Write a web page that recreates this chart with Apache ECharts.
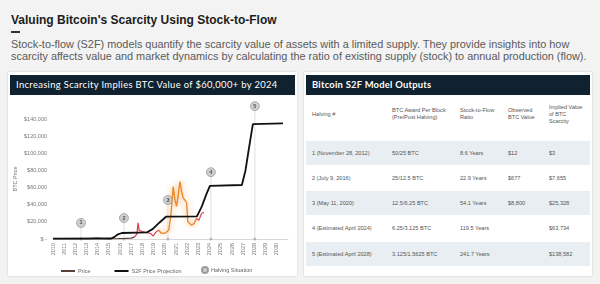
<!DOCTYPE html>
<html><head><meta charset="utf-8">
<script src="https://cdn.jsdelivr.net/npm/echarts@6/dist/echarts.min.js"></script>
<style>
html,body{margin:0;padding:0;width:600px;height:284px;overflow:hidden;background:#f3f3f3;font-family:"Liberation Sans",Arial,sans-serif;}
#title{position:absolute;left:11px;top:13px;font-size:12px;font-weight:bold;color:#1c1c1c;white-space:nowrap;}
#dash{position:absolute;left:11px;top:31px;width:9px;height:2px;background:#333;}
#para{position:absolute;left:11px;top:38px;font-size:10.9px;line-height:12px;color:#5a5a5a;white-space:nowrap;}
.card{position:absolute;background:#fff;box-shadow:0 0 2px rgba(0,0,0,0.18);}
.bar{position:absolute;background:#10222f;color:#fff;white-space:nowrap;}
#chart{position:absolute;left:0;top:0;width:600px;height:284px;}
.cell{position:absolute;font-size:5.6px;line-height:7px;color:#555;white-space:nowrap;transform:translateY(-50%);}
.band{position:absolute;background:#e9eef3;left:306px;width:284px;}
</style></head>
<body>
<div id="title">Valuing Bitcoin's Scarcity Using Stock-to-Flow</div>
<div id="dash"></div>
<div id="para">Stock-to-flow (S2F) models quantify the scarcity value of assets with a limited supply. They provide insights into how<br>scarcity affects value and market dynamics by calculating the ratio of existing supply (stock) to annual production (flow).</div>
<div class="card" style="left:8px;top:72px;width:289px;height:204px;"></div>
<div class="card" style="left:304px;top:72px;width:288px;height:204px;"></div>
<div class="bar" style="left:10px;top:75px;width:285px;height:20px;font-family:Lato,sans-serif;font-size:9.4px;line-height:20px;letter-spacing:0.35px;"><span style="padding-left:6px">Increasing Scarcity Implies BTC Value of $60,000+ by 2024</span></div>
<div class="bar" style="left:306px;top:75px;width:284px;height:20px;font-family:Lato,sans-serif;font-weight:bold;font-size:9.4px;line-height:20px;letter-spacing:0.25px;"><span style="padding-left:6px">Bitcoin S2F Model Outputs</span></div>
<div id="table"></div>
<div id="chart"></div>
<script>
// ---------- data ----------
const xTickYears = [2010,2011,2012,2013,2014,2015,2016,2017,2018,2019,2020,2021,2022,2023,2024,2025,2026,2027,2028,2029,2030];
const priceYears = [2010.0,2011.4,2012.5,2013.3,2013.9,2014.5,2015.0,2015.8,2016.5,2017.0,2017.3,2017.5,2017.6,2017.7,2018.0,2018.4,2018.7,2018.95,2019.2,2019.45,2019.65,2019.9,2020.1,2020.35,2020.55,2020.74,2020.9,2021.04,2021.2,2021.34,2021.5,2021.63,2021.8,2021.94,2022.05,2022.38,2022.6,2022.83,2023.05,2023.28,2023.5];
const priceValues = [100,300,200,400,1100,600,250,400,650,1000,2500,6000,19000,10000,8500,7500,6500,3500,8000,10500,7000,6500,7500,10500,30000,61000,45000,38000,52000,67000,55000,48000,45000,42000,20000,16000,18000,24000,22000,30000,31000];
const priceSegmentBreaks = [2010.0, 2017.3, 2019.45, 2022.83, 2023.5];
const s2fYears = [2010.0,2015.2,2015.5,2015.8,2016.16,2018.4,2018.9,2019.5,2020.1,2022.86,2023.3,2023.7,2024.02,2026.88,2027.2,2027.5,2027.86,2030.55];
const s2fValues = [500,600,2500,5500,7000,7800,11500,19000,26000,26500,38000,52000,62000,63000,80000,105000,134000,135000];
const halvingYears = [2012.5,2016.34,2020.27,2024.11,2028.04];
const halvingMarkerValues = [18700,24500,45500,78000,155000];
const halvingLabels = ['1','2','3','4','5'];

const tableHeaders = ['Halving #','BTC Award Per Block<br>(Pre/Post Halving)','Stock-to-Flow<br>Ratio','Observed<br>BTC Value','Implied Value<br>of BTC<br>Scarcity'];
const colHalving = ['1 (November 28, 2012)','2 (July 9, 2016)','3 (May 11, 2020)','4 (Estimated April 2024)','5 (Estimated April 2028)'];
const colAward = ['50/25 BTC','25/12.5 BTC','12.5/6.25 BTC','6.25/3.125 BTC','3.125/1.5625 BTC'];
const colS2F = ['8.6 Years','22.9 Years','54.1 Years','119.5 Years','241.7 Years'];
const colObserved = ['$12','$677','$8,800','',''];
const colImplied = ['$3','$7,655','$25,328','$63,734','$138,582'];

// ---------- table ----------
(function(){
  const t = document.getElementById('table');
  const colX = [312,392,460,508,549];
  const rowY = [153,178,203,228,254];
  let html = '';
  rowY.forEach((y,i)=>{ if(i%2===0) html += `<div class="band" style="top:${y-12}px;height:24px"></div>`; });
  tableHeaders.forEach((h,i)=>{ html += `<div class="cell" style="left:${colX[i]}px;top:114px">${h}</div>`; });
  const cols = [colHalving,colAward,colS2F,colObserved,colImplied];
  rowY.forEach((y,r)=>{ cols.forEach((c,i)=>{ html += `<div class="cell" style="left:${colX[i]}px;top:${y}px">${c[r]}</div>`; }); });
  t.innerHTML = html;
})();

// ---------- chart ----------
const chart = echarts.init(document.getElementById('chart'), null, {renderer:'canvas'});
const pricePairs = priceYears.map((y,i)=>[y, priceValues[i]]);
const segColors = ['#5a4035','#d63c4c','#ea8a2c','#e0485a'];
const priceSeries = segColors.map((c,k)=>({
  name:'Price', type:'line', showSymbol:false, symbol:'none', z:3,
  color: segColors[0],
  lineStyle:{color:c, width:k===2?1.4:1.2, shadowBlur: k===2?6:0, shadowColor:'rgba(245,160,70,0.9)'},
  data: pricePairs.filter(p=>p[0]>=priceSegmentBreaks[k] && p[0]<=priceSegmentBreaks[k+1])
}));
const halvingLines = halvingYears.map((y,i)=>({
  type:'line', silent:true, symbol:'none', z:1, clip:false,
  lineStyle:{color:'#d8d8d8', width:0.8},
  data:[[y,0],[y,halvingMarkerValues[i]]]
}));
const option = {
  animation:false,
  grid:{left:53, top:119, width:235, height:120},
  xAxis:{type:'value', min:2010, max:2031, interval:1,
    axisLine:{show:true, lineStyle:{color:'#d8d8d8'}}, axisTick:{show:false}, splitLine:{show:false},
    axisLabel:{rotate:90, fontSize:5.5, color:'#777', margin:4, formatter:v=> xTickYears.includes(v)?String(v):''}},
  yAxis:{type:'value', min:0, max:140000, interval:20000, name:'BTC Price', nameLocation:'middle', nameGap:35,
    nameTextStyle:{fontSize:5.5, color:'#777'},
    axisLabel:{fontSize:5.5, color:'#777', margin:6, formatter:v=> v===0?'$ -':'$'+v.toLocaleString('en-US')},
    splitLine:{show:false}, axisLine:{show:false}, axisTick:{show:false}},
  legend:[
    {data:['Price','S2F Price Projection'], left:56, top:263, icon:'rect', itemWidth:14, itemHeight:2, itemGap:24,
     textStyle:{fontSize:5.5, color:'#666', padding:[0,0,0,-2]}},
    {data:['Halving Situation'], left:196, top:261, icon:'circle', itemWidth:6, itemHeight:6,
     textStyle:{fontSize:5.5, color:'#666', padding:[0,0,0,-2]}}
  ],
  series:[
    ...halvingLines,
    {type:'scatter', silent:true, symbolSize:3, z:2, itemStyle:{color:'#aaa'}, data:halvingYears.map(y=>[y,0])},
    ...priceSeries,
    {name:'S2F Price Projection', type:'line', showSymbol:false, symbol:'none', z:4, color:'#111',
     lineStyle:{color:'#111', width:1.8}, data:s2fYears.map((y,i)=>[y,s2fValues[i]])},
    {name:'Halving Situation', type:'scatter', symbolSize:9, z:5, clip:false, color:'#9a9a9a',
     itemStyle:{color:'#c4c4c4', borderColor:'#8a8a8a', borderWidth:0.8},
     label:{show:true, position:'inside', fontSize:5.5, fontWeight:'bold', color:'#333', formatter:p=>halvingLabels[p.dataIndex]},
     data:halvingYears.map((y,i)=>[y,halvingMarkerValues[i]])}
  ]
};
chart.setOption(option);
</script>
</body></html>
